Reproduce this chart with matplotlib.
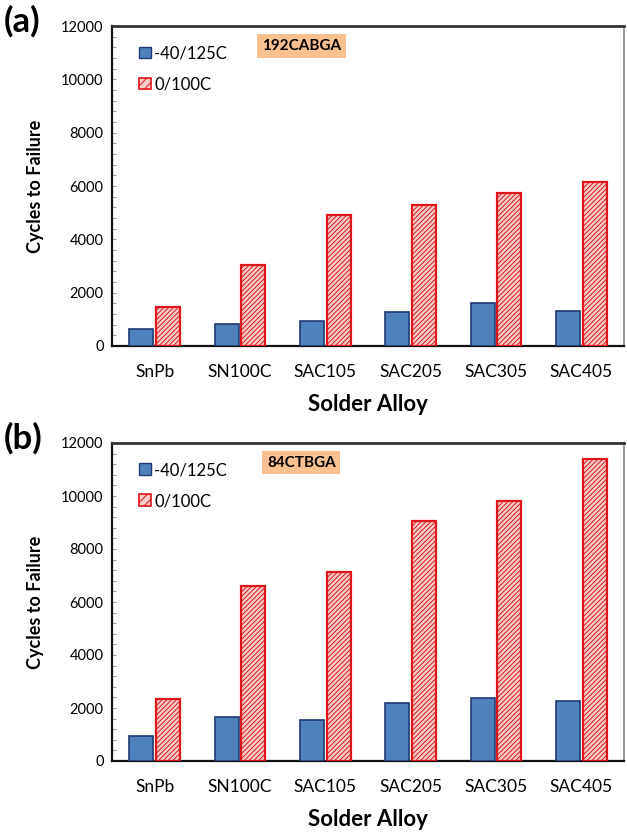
import matplotlib
matplotlib.use("Agg")
import matplotlib.pyplot as plt
from matplotlib.patches import Patch
from matplotlib.ticker import MultipleLocator
import numpy as np

plt.rcParams['font.family'] = ['Lato', 'DejaVu Sans']
plt.rcParams['hatch.linewidth'] = 0.7

alloys = ["SnPb", "SN100C", "SAC105", "SAC205", "SAC305", "SAC405"]
series_names = ["-40/125C", "0/100C"]

# 192CABGA package
cabga_hot = [650, 830, 950, 1260, 1610, 1310]
cabga_mild = [1480, 3050, 4900, 5300, 5730, 6150]

# 84CTBGA package
ctbga_hot = [950, 1650, 1550, 2190, 2380, 2280]
ctbga_mild = [2350, 6600, 7150, 9050, 9820, 11390]

panels = [
    ("(a)", "192CABGA", cabga_hot, cabga_mild),
    ("(b)", "84CTBGA", ctbga_hot, ctbga_mild),
]

BLUE = "#4f81bd"
BLUE_EDGE = "#1f3a73"
RED_FACE = "#f7cccc"
RED = "#e0161b"

W, H = 627, 833
fig = plt.figure(figsize=(W / 100, H / 100), dpi=100)
boxes = [(112, 26, 512, 320), (112, 443, 512, 318)]

x = np.arange(len(alloys))
for (tag, pkg, hot, mild), (l, t, w, h) in zip(panels, boxes):
    ax = fig.add_axes([l / W, 1 - (t + h) / H, w / W, h / H])
    ax.bar(x - 0.155, hot, width=0.28, color=BLUE, edgecolor=BLUE_EDGE, linewidth=1.2, zorder=3)
    ax.bar(x + 0.155, mild, width=0.28, facecolor=RED_FACE, edgecolor=RED,
           hatch="///////", linewidth=1.6, zorder=3)
    ax.set_xlim(-0.5, len(alloys) - 0.5)
    ax.set_ylim(0, 12000)
    ax.yaxis.set_major_locator(MultipleLocator(2000))
    ax.yaxis.set_minor_locator(MultipleLocator(400))
    ax.tick_params(axis="y", which="both", direction="in", length=3, width=0.6,
                   color="#888888", labelsize=10.5, pad=6)
    ax.tick_params(axis="x", length=0, labelsize=12.5, pad=13)
    ax.set_xticks(x)
    ax.set_xticklabels(alloys)
    for side in ("left", "bottom"):
        ax.spines[side].set_linewidth(1.6)
        ax.spines[side].set_color("#111111")
    ax.spines["top"].set_linewidth(2.0)
    ax.spines["top"].set_color("#333333")
    ax.spines["right"].set_linewidth(1.2)
    ax.spines["right"].set_color("#888888")

    ax.set_ylabel("Cycles to Failure", fontsize=13, fontweight="bold", labelpad=12)
    ax.set_xlabel("Solder Alloy", fontsize=16, fontweight="bold", labelpad=10)

    handles = [
        Patch(facecolor=BLUE, edgecolor=BLUE_EDGE, linewidth=1.0),
        Patch(facecolor=RED_FACE, edgecolor=RED, hatch="////", linewidth=1.2),
    ]
    ax.legend(handles, series_names, loc="upper left", bbox_to_anchor=(0.053, 0.94),
              frameon=False, fontsize=12, handlelength=0.7, handleheight=0.7,
              handletextpad=0.2, labelspacing=0.9, borderpad=0, borderaxespad=0)

    ax.text(0.37, 0.9375, pkg, transform=ax.transAxes, ha="center", va="center",
            fontsize=11, fontweight="bold",
            bbox=dict(boxstyle="square,pad=0.3", fc="#fac090", ec="none"))

    fig.text(4 / W, 1 - (t - 5) / H, tag, fontsize=25, fontweight="bold",
             ha="left", va="center")

fig.savefig("out.png", dpi=100)
